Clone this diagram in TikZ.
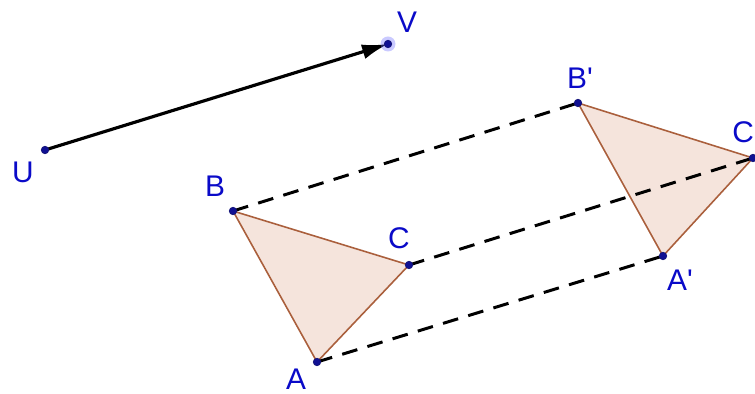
\documentclass[tikz,border=0pt]{standalone}
\usepackage{fontspec}
\setmainfont{Liberation Sans}[Ligatures=TeXOff]
\usetikzlibrary{arrows.meta}
\definecolor{ptblue}{RGB}{20,20,120}
\definecolor{lblblue}{RGB}{10,10,200}
\definecolor{triedge}{RGB}{170,95,60}
\definecolor{trifill}{RGB}{245,228,220}
\begin{document}
\begin{tikzpicture}[
    x=0.02cm, y=-0.02cm,
    pt/.style={circle, draw=ptblue, fill=ptblue!80!blue, inner sep=0pt, minimum size=0.15cm},
    lbl/.style={text=lblblue, font=\fontsize{17}{19}\selectfont, inner sep=0pt},
    tri/.style={draw=triedge, fill=trifill, line width=0.9pt, line join=round},
    trail/.style={dashed, dash pattern=on 9pt off 6pt, line width=1.7pt},
    vec/.style={-{Latex[length=0.52cm, width=0.3cm]}, line width=1.8pt}
]
\useasboundingbox (0,0) rectangle (755,394);

% points
\coordinate (U) at (45,150);
\coordinate (V) at (388,44);
\coordinate (B) at (233,211);
\coordinate (C) at (409,265);
\coordinate (A) at (317,362);
\coordinate (B') at (578,103);
\coordinate (C') at (753,158);
\coordinate (A') at (663,256);

% triangles
\draw[tri] (A) -- (B) -- (C) -- cycle;
\draw[tri] (A') -- (B') -- (C') -- cycle;

% translation trails
\draw[trail] (B) -- (B');
\draw[trail] (C) -- (C');
\draw[trail] (A) -- (A');

% vector
\draw[vec] (U) -- (V);

\fill[blue!60, opacity=0.35] (V) circle (0.15cm);
\foreach \p in {U,V,A,B,C,A',B',C'}
    \node[pt] (p\p) at (\p) {};

% labels
\node[lbl] (lU) at (23,172) {U};
\node[lbl] (lV) at (407,22) {V};
\node[lbl] (lB) at (215,186) {B};
\node[lbl] (lC) at (399,238) {C};
\node[lbl] (lA) at (296,379) {A};
\node[lbl] (lB') at (580,78) {B'};
\node[lbl] (lC') at (746,132) {C'};
\node[lbl] (lA') at (680,280) {A'};
\end{tikzpicture}
\end{document}
